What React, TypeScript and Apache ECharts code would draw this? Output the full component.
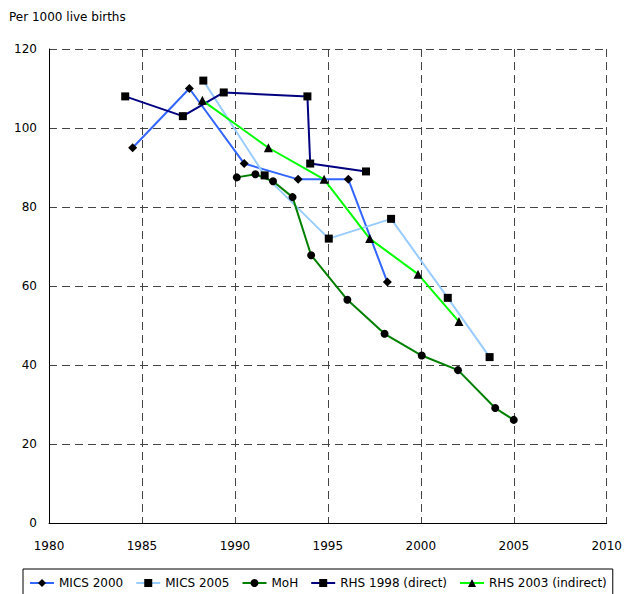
import React, { useEffect, useRef } from "react";
import * as echarts from "echarts";

const yAxisTitle = "Per 1000 live births";
const xTicks = [1980, 2010, 5];
const yTicks = [0, 120, 20];

const mics2000Years = [1984.5, 1987.55, 1990.5, 1993.4, 1996.1, 1998.2];
const mics2000Values = [95, 110, 91, 87, 87, 61];

const mics2005Years = [1988.3, 1991.6, 1995.05, 1998.4, 2001.45, 2003.7];
const mics2005Values = [112, 88, 72, 77, 57, 42];

const mohYears = [1990.1, 1991.1, 1992.05, 1993.1, 1994.1, 1996.05, 1998.05, 2000.05, 2002.0, 2004.0, 2005.0];
const mohValues = [87.5, 88.3, 86.5, 82.5, 67.8, 56.5, 47.9, 42.4, 38.7, 29.1, 26.1];

const rhs1998Years = [1984.1, 1987.2, 1989.4, 1993.9, 1994.05, 1997.05];
const rhs1998Values = [108, 103, 109, 108, 91, 89];

const rhs2003Years = [1988.25, 1991.8, 1994.8, 1997.25, 1999.85, 2002.05];
const rhs2003Values = [107, 95, 87, 72, 63, 51];

const seriesNames = ["MICS 2000", "MICS 2005", "MoH", "RHS 1998 (direct)", "RHS 2003 (indirect)"];

const pair = (xs: number[], ys: number[]) => xs.map((x, i) => [x, ys[i]]);

const FONT = "'DejaVu Sans', Verdana, sans-serif";

export default function App() {
  const ref = useRef<HTMLDivElement>(null);
  useEffect(() => {
    if (!ref.current) return;
    const chart = echarts.init(ref.current, null, { renderer: "svg" });
    const mk = (name: string, data: number[][], color: string, symbol: string, size: number) => ({
      name,
      type: "line",
      data,
      symbol,
      symbolSize: size,
      showAllSymbol: true,
      lineStyle: { color, width: 2 },
      itemStyle: { color: "#000", borderColor: "#000", borderWidth: 0 },
      color,
      emphasis: { disabled: true },
    });
    chart.setOption({
      animation: false,
      textStyle: { fontFamily: FONT },
      title: {
        text: yAxisTitle,
        left: 9,
        top: 11,
        padding: 0,
        textStyle: { fontFamily: FONT, fontSize: 12, fontWeight: "normal", color: "#000" },
      },
      grid: { left: 49, right: 15, top: 49, bottom: 71, containLabel: false },
      xAxis: {
        type: "value",
        min: xTicks[0],
        max: xTicks[1],
        interval: xTicks[2],
        axisLine: { show: true, onZero: false, lineStyle: { color: "#000", width: 1 } },
        axisTick: { show: false },
        axisLabel: {
          color: "#000",
          fontSize: 12,
          fontFamily: FONT,
          margin: 17,
          showMaxLabel: true,
          showMinLabel: true,
          formatter: (v: number) => String(v),
        },
        splitLine: { show: true, lineStyle: { color: "#444", type: [8, 5], width: 1 } },
      },
      yAxis: {
        type: "value",
        min: yTicks[0],
        max: yTicks[1],
        interval: yTicks[2],
        axisLine: { show: true, lineStyle: { color: "#000", width: 1 } },
        axisTick: { show: false },
        axisLabel: { color: "#000", fontSize: 12, fontFamily: FONT, margin: 12 },
        splitLine: { show: true, lineStyle: { color: "#444", type: [8, 5], width: 1 } },
      },
      legend: {
        data: seriesNames,
        left: 23,
        top: 569,
        padding: [8, 6, 8, 6],
        itemGap: 12,
        itemWidth: 24,
        itemHeight: 10,
        borderColor: "#000",
        borderWidth: 1,
        textStyle: { fontFamily: FONT, fontSize: 12, color: "#000" },
      },
      series: [
        mk(seriesNames[0], pair(mics2000Years, mics2000Values), "#3366FF", "diamond", 9),
        mk(seriesNames[1], pair(mics2005Years, mics2005Values), "#99CCFF", "rect", 8),
        mk(seriesNames[2], pair(mohYears, mohValues), "#008000", "circle", 8),
        mk(seriesNames[3], pair(rhs1998Years, rhs1998Values), "#000080", "rect", 8),
        mk(seriesNames[4], pair(rhs2003Years, rhs2003Values), "#00FF00", "triangle", 9),
      ],
    });
    return () => chart.dispose();
  }, []);
  return <div ref={ref} style={{ width: 625, height: 594, position: "absolute", left: 0, top: 0 }} />;
}
